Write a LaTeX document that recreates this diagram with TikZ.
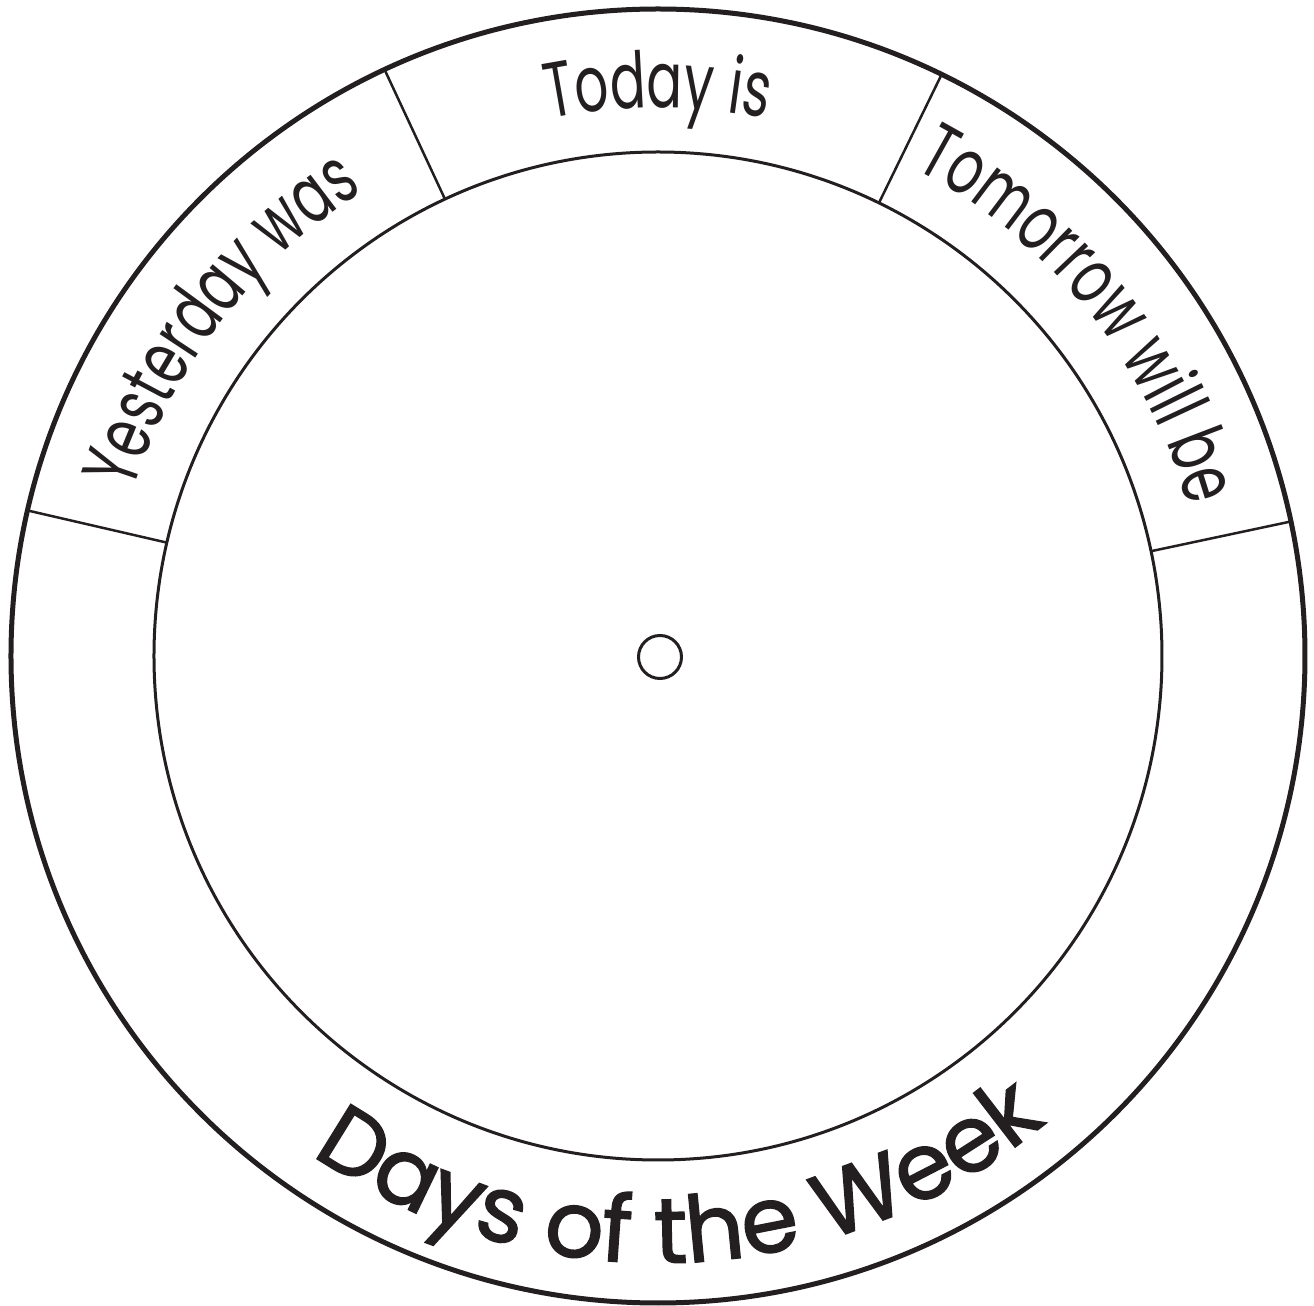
\documentclass[tikz,border=0pt]{standalone}
\usepackage{fontspec}
\usetikzlibrary{decorations.text}
\newfontfamily\labelfont[FakeStretch=0.68]{Poppins}
\newfontfamily\titlefont[FakeBold=1.6]{Poppins}
\definecolor{ink}{RGB}{35,31,32}
\begin{document}
\begin{tikzpicture}[x=0.5pt,y=0.5pt,
  ring/.style={circle, draw=ink, inner sep=0pt, outer sep=0pt},
  divider/.style={draw=ink, line width=1.25pt},
  arclabel/.style={decorate, decoration={text along path, text align=center,
      text color=ink, text={|\labelfont\fontsize{39}{39}\selectfont|#1}}},
  titlelabel/.style={decorate, decoration={text along path, text align=center,
      text color=ink, text={|\titlefont\fontsize{46}{46}\selectfont|#1}}}]
\useasboundingbox (-658,-650) rectangle (656,656);
\node[ring, line width=2.5pt, minimum size=647pt] (outer) at (0,0) {};
\node[ring, line width=1.5pt, minimum size=504pt] (inner) at (0,0) {};
\node[ring, line width=1.5pt, minimum size=21.5pt] (hole) at (2,-1) {};
\draw[divider] (inner.115.5) -- (outer.115.5);
\draw[divider] (inner.64.5) -- (outer.64.5);
\draw[divider] (inner.167.5) -- (outer.167.5);
\draw[divider] (inner.12.5) -- (outer.12.5);
\path[arclabel={Today is}] (116:548) arc[start angle=116, end angle=64, radius=548];
\path[arclabel={Yesterday was}] (170:550) arc[start angle=170, end angle=115, radius=550];
\path[arclabel={Tomorrow will be}] (64:551) arc[start angle=64, end angle=14, radius=551];
\path[titlelabel={Days of the Week}] (-125:607) arc[start angle=-125, end angle=-50, radius=607];
\end{tikzpicture}
\end{document}
